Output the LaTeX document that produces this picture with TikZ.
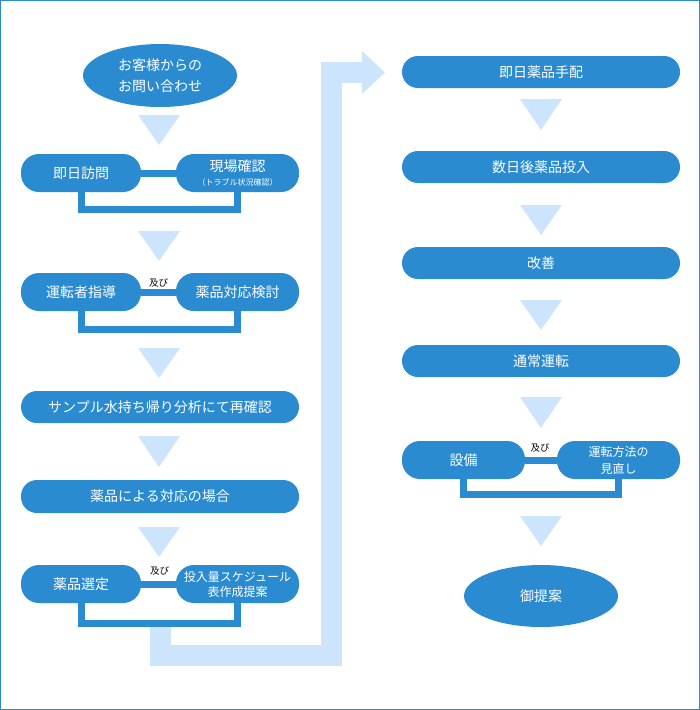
\documentclass[tikz,border=0pt]{standalone}
\usepackage{fontspec}
\newfontfamily\jp{Noto Sans CJK JP}
\usetikzlibrary{shapes.geometric,calc}
\definecolor{dk}{RGB}{42,139,208}
\definecolor{lt}{RGB}{204,229,252}
\begin{document}
\begin{tikzpicture}[x=1pt,y=-1pt,
  box/.style={fill=dk,text=white,font=\jp\fontsize{14}{17}\selectfont,rounded corners=16pt,inner sep=0pt,align=center,minimum height=32pt},
  tallbox/.style={box,rounded corners=18pt,minimum height=38pt},
  ell/.style={ellipse,fill=dk,text=white,font=\jp\fontsize{14}{21}\selectfont,inner sep=0pt,align=center,minimum width=154pt,minimum height=63pt},
  tri/.style={fill=lt},
  link/.style={draw=dk,line width=7pt},
  brk/.style={draw=dk,line width=7pt},
  big/.style={draw=lt,line width=21pt},
  oyobi/.style={font=\jp\fontsize{9.5}{11}\selectfont,text=black,inner sep=0pt}]
\useasboundingbox (0,0) rectangle (700,710);
\draw[dk,line width=1pt] (0.5,0.5) rectangle (699.5,709.5);

% big light arrow
\coordinate (arrstart) at (160,623);
\coordinate (arrend) at (363,72.5);
\draw[big] (arrstart) -- (160,655.5) -- (331.5,655.5) -- (331.5,72.5) -- (arrend);
\fill[tri] (362,51) -- (385,72.5) -- (362,94) -- cycle;

% left column
\node[ell] (e1) at (160,75.5) {お客様からの\\お問い合わせ};
\fill[tri] (138,115) -- (180,115) -- (159,145) -- cycle;

\node[tallbox,minimum width=120pt] (a1) at (81,173) {即日訪問};
\node[tallbox,minimum width=123pt] (a2) at (237.5,173) {現場確認\\[-3pt]{\fontsize{8}{9}\selectfont （トラブル状況確認）}};
\draw[link] (a1.east) -- (a2.west);
\draw[brk] (a1.south) -- ++(0,17.5) -| (a2.south);
\fill[tri] (138,231) -- (180,231) -- (159,261) -- cycle;

\node[tallbox,minimum width=120pt] (b1) at (81,292) {運転者指導};
\node[tallbox,minimum width=123pt] (b2) at (237.5,292) {薬品対応検討};
\draw[link] (b1.east) -- (b2.west);
\node[oyobi] (o1) at (158.5,282.5) {及び};
\draw[brk] (b1.south) -- ++(0,18) -| (b2.south);
\fill[tri] (138,348) -- (180,348) -- (159,378) -- cycle;

\node[box,minimum width=278pt] (c) at (160,407) {サンプル水持ち帰り分析にて再確認};
\fill[tri] (138,436) -- (180,436) -- (159,467) -- cycle;

\node[box,minimum width=278pt,minimum height=33pt] (d) at (160,496.5) {薬品による対応の場合};
\fill[tri] (138,527) -- (180,527) -- (159,557) -- cycle;

\node[tallbox,minimum width=120pt] (f1) at (81,584) {薬品選定};
\node[tallbox,minimum width=123pt,font=\jp\fontsize{12}{15}\selectfont] (f2) at (237.5,584) {投入量スケジュール\\表作成提案};
\draw[link] (f1.east) -- (f2.west);
\node[oyobi] (o2) at (159.5,571) {及び};
\draw[brk] (f1.south) -- ++(0,20.5) -| (f2.south);

% right column
\node[box,minimum width=278pt] (r1) at (541,72) {即日薬品手配};
\fill[tri] (520,99) -- (562,99) -- (541,130) -- cycle;
\node[box,minimum width=278pt] (r2) at (541,167) {数日後薬品投入};
\fill[tri] (520,205) -- (562,205) -- (541,235) -- cycle;
\node[box,minimum width=278pt] (r3) at (541,263) {改善};
\fill[tri] (520,300) -- (562,300) -- (541,330) -- cycle;
\node[box,minimum width=278pt] (r4) at (541,361) {通常運転};
\fill[tri] (520,397) -- (562,397) -- (541,428) -- cycle;

\node[tallbox,minimum width=123pt] (r5a) at (463.5,460) {設備};
\node[tallbox,minimum width=123pt,font=\jp\fontsize{12}{17}\selectfont] (r5b) at (618.5,460) {運転方法の\\見直し};
\draw[link] (r5a.east) -- (r5b.west);
\node[oyobi] (o3) at (540,448) {及び};
\draw[brk] (r5a.south) -- ++(0,15.5) -| (r5b.south);
\fill[tri] (520,516) -- (562,516) -- (541,546) -- cycle;

\node[ell,minimum height=62pt] (e2) at (541,596) {御提案};
\end{tikzpicture}
\end{document}
